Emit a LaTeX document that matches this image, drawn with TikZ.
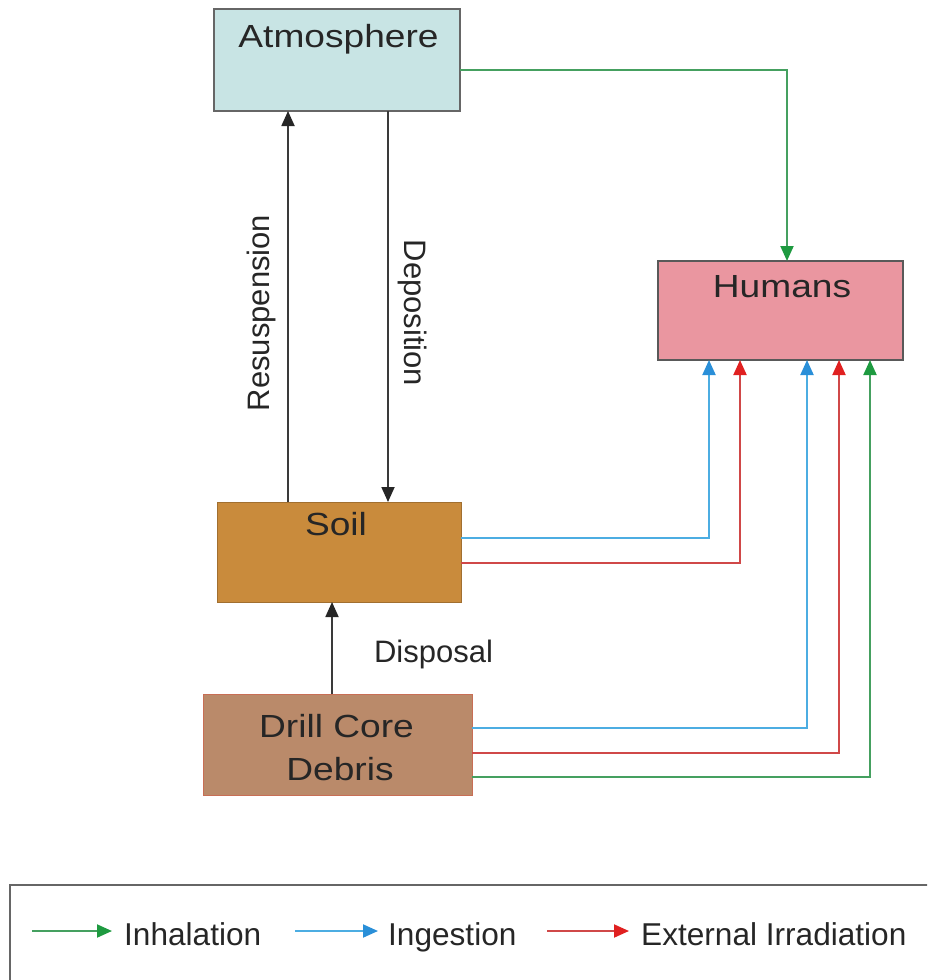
\documentclass[tikz,border=0pt]{standalone}
\usepackage{fontspec}
\setmainfont{Liberation Sans}
\newfontfamily\boxfont[FakeStretch=1.16]{Liberation Sans}
\usetikzlibrary{arrows.meta}

\definecolor{atmfill}{HTML}{C8E4E4}
\definecolor{humfill}{HTML}{EA96A0}
\definecolor{soilfill}{HTML}{C98B3C}
\definecolor{drillfill}{HTML}{BA8A6A}
\definecolor{inhline}{HTML}{45A060}
\definecolor{inhtip}{HTML}{1E9A40}
\definecolor{ingline}{HTML}{4CADE2}
\definecolor{ingtip}{HTML}{2A8FD8}
\definecolor{irrline}{HTML}{D04848}
\definecolor{irrtip}{HTML}{E02020}
\definecolor{flowline}{HTML}{3A3A3A}

\tikzset{
  compartment/.style={rectangle, inner sep=0pt, outer sep=0pt, line width=1.6pt},
  boxlabel/.style={anchor=base, inner sep=0pt, font=\boxfont\fontsize{32}{38}\selectfont, text=black!85},
  flowlabel/.style={inner sep=0pt, font=\fontsize{31}{36}\selectfont, text=black!85},
  legendlabel/.style={anchor=base west, inner sep=0pt, font=\fontsize{31.6}{36}\selectfont, text=black!85},
  flow/.style={draw=flowline, line width=1.8pt, -{Triangle[length=15pt,width=13pt,color=black!85]}},
  inhalation/.style={draw=inhline, line width=2pt, -{Triangle[length=15pt,width=13pt,color=inhtip]}},
  ingestion/.style={draw=ingline, line width=2pt, -{Triangle[length=15pt,width=13pt,color=ingtip]}},
  irradiation/.style={draw=irrline, line width=2pt, -{Triangle[length=15pt,width=13pt,color=irrtip]}},
}

\begin{document}
\begin{tikzpicture}[x=1pt, y=-1pt]
  \useasboundingbox (0,0) rectangle (927,980);
  \clip (0,0) rectangle (927,980);

  % compartments
  \node[compartment, draw=black!60, fill=atmfill, minimum width=246pt, minimum height=102pt] (atm) at (337,60) {};
  \node[compartment, draw=black!65, fill=humfill, minimum width=245pt, minimum height=99pt] (hum) at (780.5,310.5) {};
  \node[compartment, draw=soilfill!80!black, line width=1pt, fill=soilfill, minimum width=244pt, minimum height=100pt] (soil) at (339,552) {};
  \node[compartment, draw=drillfill!80!red, line width=1pt, fill=drillfill, minimum width=269pt, minimum height=101pt] (drill) at (337.5,744.5) {};

  % compartment names
  \node[boxlabel] (atmtext) at (338.5,47) {Atmosphere};
  \node[boxlabel] (humtext) at (782,297) {Humans};
  \node[boxlabel] (soiltext) at (336,535) {Soil};
  \node[boxlabel] (drilltext1) at (336.5,737) {Drill Core};
  \node[boxlabel] (drilltext2) at (340,780) {Debris};

  % transfers between environmental compartments
  \draw[flow] ([xshift=-51pt]soil.north) -- ([xshift=-51pt]soil.north |- atm.south);
  \draw[flow] ([xshift=51pt]atm.south) -- ([xshift=51pt]atm.south |- soil.north);
  \draw[flow] ([xshift=-5.5pt]drill.north) -- ([xshift=-5.5pt]drill.north |- soil.south);

  \node[flowlabel, rotate=90] (reslabel) at (261,313) {Resuspension};
  \node[flowlabel, rotate=-90] (deplabel) at (413,313) {Deposition};
  \node[flowlabel, anchor=base] (displabel) at (433.5,662) {Disposal};

  % exposure pathways to humans
  \draw[inhalation] ([yshift=-10pt]atm.east) -| ([xshift=6.5pt]hum.north);
  \draw[ingestion] ([yshift=14pt]soil.east) -| ([xshift=-71.5pt]hum.south);
  \draw[irradiation] ([yshift=-11pt]soil.east) -| ([xshift=-40.5pt]hum.south);
  \draw[ingestion] ([yshift=16.5pt]drill.east) -| ([xshift=26.5pt]hum.south);
  \draw[irradiation] ([yshift=-8.5pt]drill.east) -| ([xshift=58.5pt]hum.south);
  \draw[inhalation] ([yshift=-32.5pt]drill.east) -| ([xshift=89.5pt]hum.south);

  % legend
  \node[rectangle, draw=black!60, line width=1.6pt, inner sep=0pt, minimum width=930pt, minimum height=110pt] (legend) at (475,940) {};
  \coordinate (inhA) at (32,931);
  \coordinate (inhB) at (112,931);
  \coordinate (ingA) at (295,931);
  \coordinate (ingB) at (378,931);
  \coordinate (irrA) at (547,931);
  \coordinate (irrB) at (629,931);
  \draw[inhalation] (inhA) -- (inhB);
  \draw[ingestion] (ingA) -- (ingB);
  \draw[irradiation] (irrA) -- (irrB);
  \node[legendlabel] (inhtext) at (124,945) {Inhalation};
  \node[legendlabel] (ingtext) at (388,945) {Ingestion};
  \node[legendlabel] (irrtext) at (641,945) {External Irradiation};
\end{tikzpicture}
\end{document}
